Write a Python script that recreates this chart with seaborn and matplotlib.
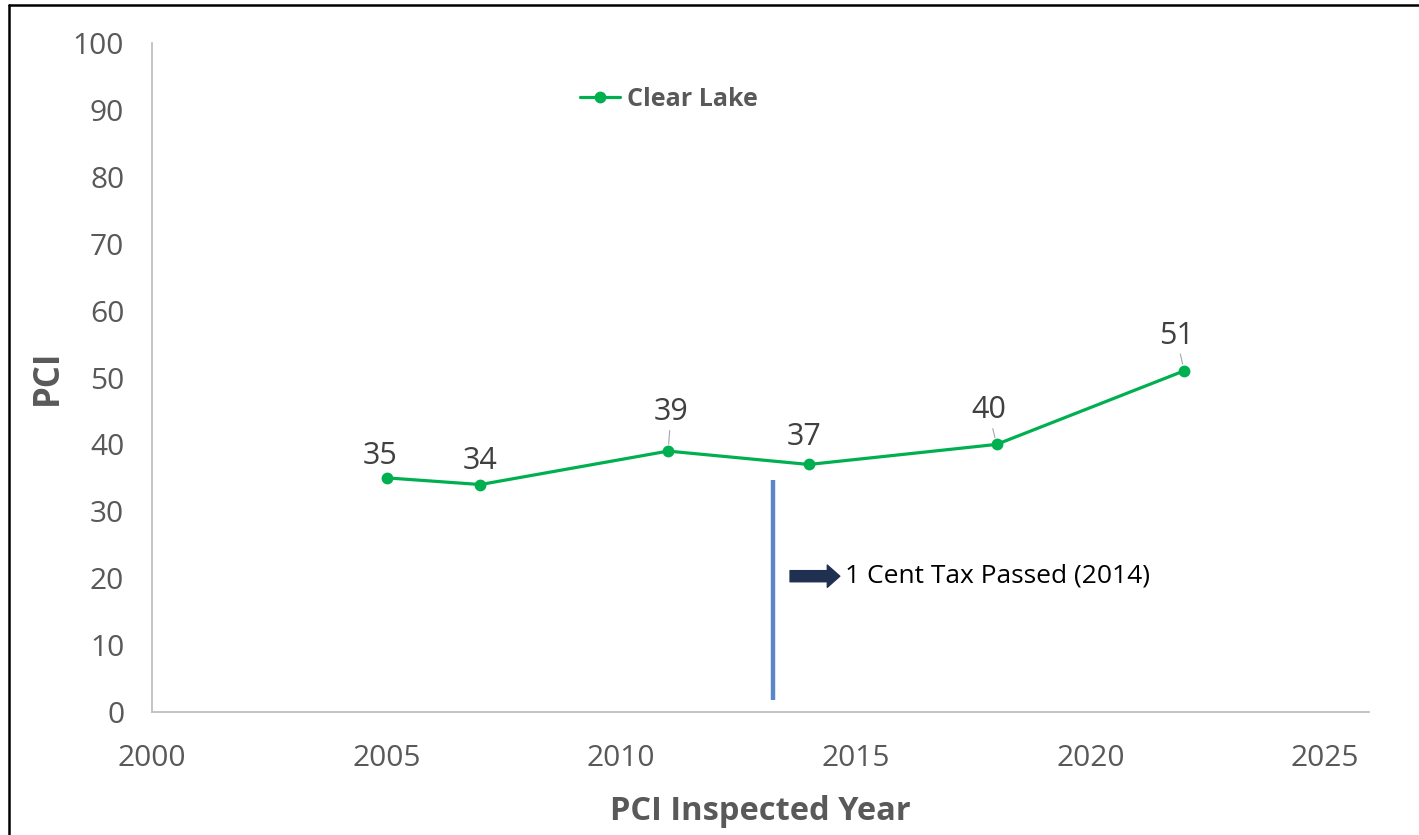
import matplotlib
matplotlib.use("Agg")
import matplotlib.pyplot as plt
from matplotlib.lines import Line2D
import seaborn as sns
import pandas as pd

# PCI history for Clear Lake
years = [2005, 2007, 2011, 2014, 2018, 2022]
pci = [35, 34, 39, 37, 40, 51]
series_name = "Clear Lake"

x_ticks = [2000, 2005, 2010, 2015, 2020, 2025]
y_ticks = [0, 10, 20, 30, 40, 50, 60, 70, 80, 90, 100]

tax_year_line = 2013.24
tax_line_range = [1.8, 34.7]
tax_arrow_x = [2013.6, 2014.66]
tax_text_x = 2014.77
tax_text_y = 20.3
tax_text = "1 Cent Tax Passed (2014)"

df = pd.DataFrame({"Year": years, "PCI": pci, "Series": series_name})

sns.set_style("white")
plt.rcParams['font.family'] = ['Open Sans', 'DejaVu Sans']

green = "#00B050"
grey_txt = "#595959"

fig = plt.figure(figsize=(14.19, 8.35), dpi=100)
ax = fig.add_axes([0.1071, 0.1473, 0.8577, 0.8012])

sns.lineplot(data=df, x="Year", y="PCI", hue="Series", palette=[green],
             marker="o", markersize=8.5, markeredgewidth=0, linewidth=2.3, ax=ax)

ax.set_xlim(2000, 2025.94)
ax.set_ylim(0, 100)
ax.set_xticks(x_ticks)
ax.set_yticks(y_ticks)
ax.tick_params(axis='both', length=0, labelsize=21.5, colors=grey_txt)
ax.tick_params(axis='y', pad=20)
ax.tick_params(axis='x', pad=23)

for side in ["top", "right"]:
    ax.spines[side].set_visible(False)
for side in ["left", "bottom"]:
    ax.spines[side].set_color("#BFBFBF")
    ax.spines[side].set_linewidth(1.3)

ax.set_xlabel("PCI Inspected Year", fontsize=23.5, fontweight='bold', color=grey_txt, labelpad=16)
ax.set_ylabel("PCI", fontsize=25, fontweight='bold', color=grey_txt, labelpad=5)

# data labels (offsets in points), leader lines on some
offsets = [(-4.3, 15.8), (0, 17.3), (2.2, 28), (-3.6, 20), (-5.8, 24.5), (-5.8, 25.2)]
leaders = [False, False, True, False, True, True]
for x, y, off, lead in zip(years, pci, offsets, leaders):
    props = dict(arrowstyle='-', color='#A6A6A6', lw=0.8, shrinkA=0, shrinkB=5) if lead else None
    ax.annotate(str(y), (x, y), xytext=off, textcoords='offset points',
                ha='center', va='center', fontsize=22, color='#404040',
                arrowprops=props)

# tax passed marker
ax.vlines(tax_year_line, tax_line_range[0], tax_line_range[1], color="#5B87C6", linewidth=3.2)
ax.annotate("", xy=(tax_arrow_x[1], tax_text_y), xytext=(tax_arrow_x[0], tax_text_y),
            arrowprops=dict(arrowstyle="simple,head_length=0.45,head_width=0.8,tail_width=0.4",
                            mutation_scale=20, fc="#1F3050", ec="#1F3050", lw=1,
                            shrinkA=0, shrinkB=0))
ax.plot([tax_arrow_x[0] + 0.05, tax_arrow_x[1] - 0.2], [tax_text_y, tax_text_y],
        color="black", linewidth=1.8)
ax.text(tax_text_x, tax_text_y, tax_text, fontsize=19, color="black", va='center', ha='left')

leg = ax.legend(loc='center left', bbox_to_anchor=(0.333, 0.916), frameon=False,
                handlelength=1.6, handletextpad=0.3, prop={'size': 18, 'weight': 'bold'})
for t in leg.get_texts():
    t.set_color(grey_txt)

# outer frame of the original picture
fig.add_artist(Line2D([0.0066, 0.0066], [0.0, 0.9935], transform=fig.transFigure, color='black', lw=1.8))
fig.add_artist(Line2D([0.0066, 1.0], [0.9935, 0.9935], transform=fig.transFigure, color='black', lw=1.8))

fig.savefig("out.png", dpi=100)
